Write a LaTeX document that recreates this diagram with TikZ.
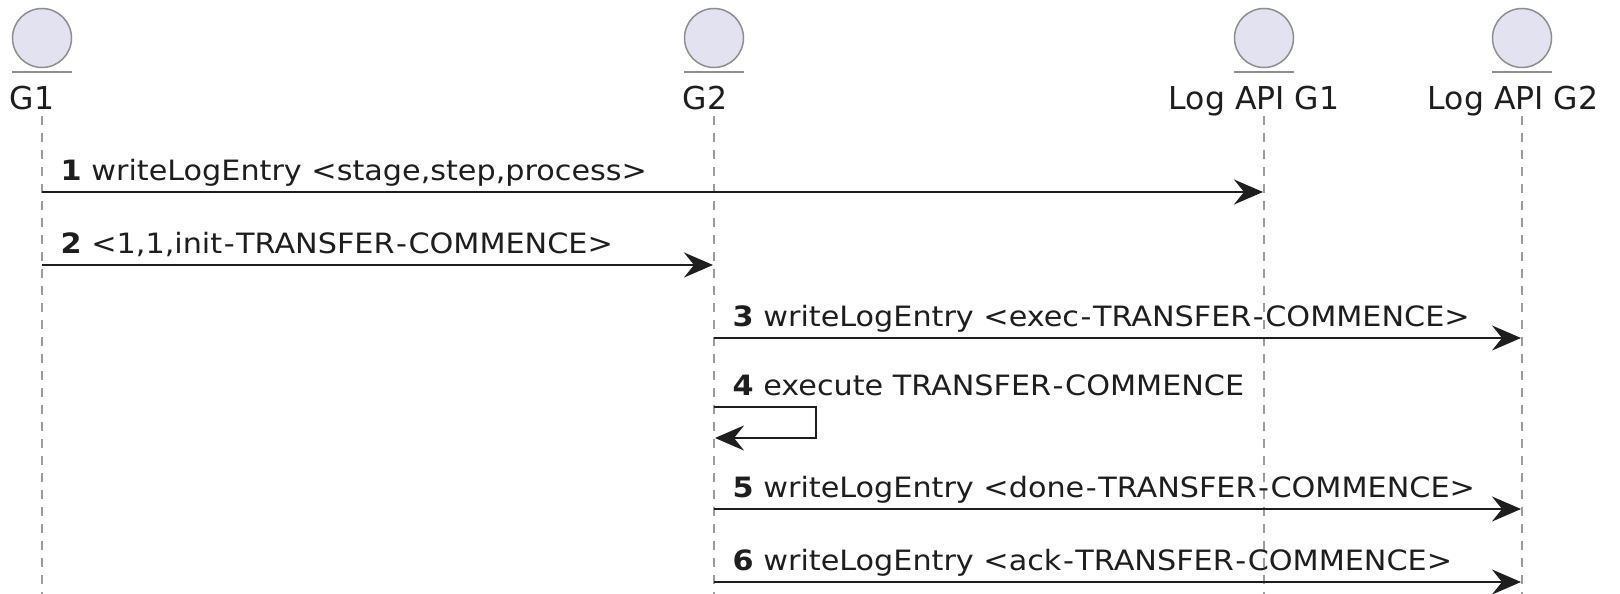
\documentclass[tikz,border=0pt]{standalone}
\usepackage{fontspec}
\setmainfont{DejaVu Sans}
\newfontfamily\msgfont[FakeStretch=1.08]{DejaVu Sans}
\usetikzlibrary{arrows.meta}
\definecolor{actorfill}{HTML}{E2E2F0}
\definecolor{actorline}{HTML}{8E8E8E}
\definecolor{lifecol}{HTML}{9C9C9C}
\definecolor{ink}{HTML}{1E1E1E}
% a hyphen set a little wider, as in the message font
\newcommand\hy{\makebox[0.5em]{-}}
\begin{document}
\begin{tikzpicture}[x=1pt,y=-1pt,
  actor/.style={circle,draw=actorline,fill=actorfill,line width=1.5pt,minimum size=59pt,inner sep=0pt},
  actorbar/.style={draw=actorline,line width=1.5pt},
  pname/.style={anchor=base,inner sep=0pt,font=\fontsize{31.5}{37}\selectfont,text=ink},
  life/.style={draw=lifecol,line width=1.3pt,dash pattern=on 9pt off 8pt},
  msg/.style={draw=ink,line width=2.4pt,-{Stealth[length=29pt,width=25pt,inset=10pt]}},
  lbl/.style={anchor=base west,inner sep=0pt,font=\msgfont\fontsize{28}{34}\selectfont,text=ink}]
  % canvas
  \fill[white] (0,0) rectangle (1620,594);
  \useasboundingbox (0,0) rectangle (1620,594);

  % participants: circle, bar and name
  \node[actor] (g1)  at (42,38)   {};
  \node[actor] (g2)  at (714,38)  {};
  \node[actor] (lg1) at (1264,38) {};
  \node[actor] (lg2) at (1522,38) {};
  \foreach \p in {g1,g2,lg1,lg2}
    \draw[actorbar] ([shift={(-30,34)}]\p.center) -- ([shift={(30,34)}]\p.center);
  \node[pname] (g1n)  at (32,110)   {G1};
  \node[pname] (g2n)  at (705,110)  {G2};
  \node[pname] (lg1n) at (1254,110) {Log API G1};
  \node[pname] (lg2n) at (1513,110) {Log API G2};

  % lifelines
  \coordinate (g1top)  at (42,116);   \coordinate (g1bot)  at (42,594);
  \coordinate (g2top)  at (714,116);  \coordinate (g2bot)  at (714,594);
  \coordinate (lg1top) at (1264,116); \coordinate (lg1bot) at (1264,594);
  \coordinate (lg2top) at (1522,116); \coordinate (lg2bot) at (1522,594);
  \foreach \p in {g1,g2,lg1,lg2}
    \draw[life] (\p top) -- (\p bot);

  % message rows
  \coordinate (r1)  at (0,192);
  \coordinate (r2)  at (0,265);
  \coordinate (r3)  at (0,338);
  \coordinate (r4a) at (0,407);
  \coordinate (r4b) at (0,438);
  \coordinate (r5)  at (0,509);
  \coordinate (r6)  at (0,582);

  % messages
  \draw[msg] (g1top |- r1) -- ([xshift=-1pt]lg1top |- r1);
  \node[lbl] (t1) at ([xshift=18.5pt,yshift=12pt]g1top |- r1)
    {\textbf{1} writeLogEntry <stage,step,process>};

  \draw[msg] (g1top |- r2) -- ([xshift=-1pt]g2top |- r2);
  \node[lbl] (t2) at ([xshift=18.5pt,yshift=12pt]g1top |- r2)
    {\textbf{2} <1,1,init\hy TRANSFER\hy COMMENCE>};

  \draw[msg] (g2top |- r3) -- ([xshift=-1pt]lg2top |- r3);
  \node[lbl] (t3) at ([xshift=18.5pt,yshift=12pt]g2top |- r3)
    {\textbf{3} writeLogEntry <exec\hy TRANSFER\hy COMMENCE>};

  \draw[msg] (g2top |- r4a) -- ++(102,0) |- ([xshift=1pt]g2top |- r4b);
  \node[lbl] (t4) at ([xshift=18.5pt,yshift=12pt]g2top |- r4a)
    {\textbf{4} execute TRANSFER\hy COMMENCE};

  \draw[msg] (g2top |- r5) -- ([xshift=-1pt]lg2top |- r5);
  \node[lbl] (t5) at ([xshift=18.5pt,yshift=12pt]g2top |- r5)
    {\textbf{5} writeLogEntry <done\hy TRANSFER\hy COMMENCE>};

  \draw[msg] (g2top |- r6) -- ([xshift=-1pt]lg2top |- r6);
  \node[lbl] (t6) at ([xshift=18.5pt,yshift=12pt]g2top |- r6)
    {\textbf{6} writeLogEntry <ack\hy TRANSFER\hy COMMENCE>};
\end{tikzpicture}
\end{document}
